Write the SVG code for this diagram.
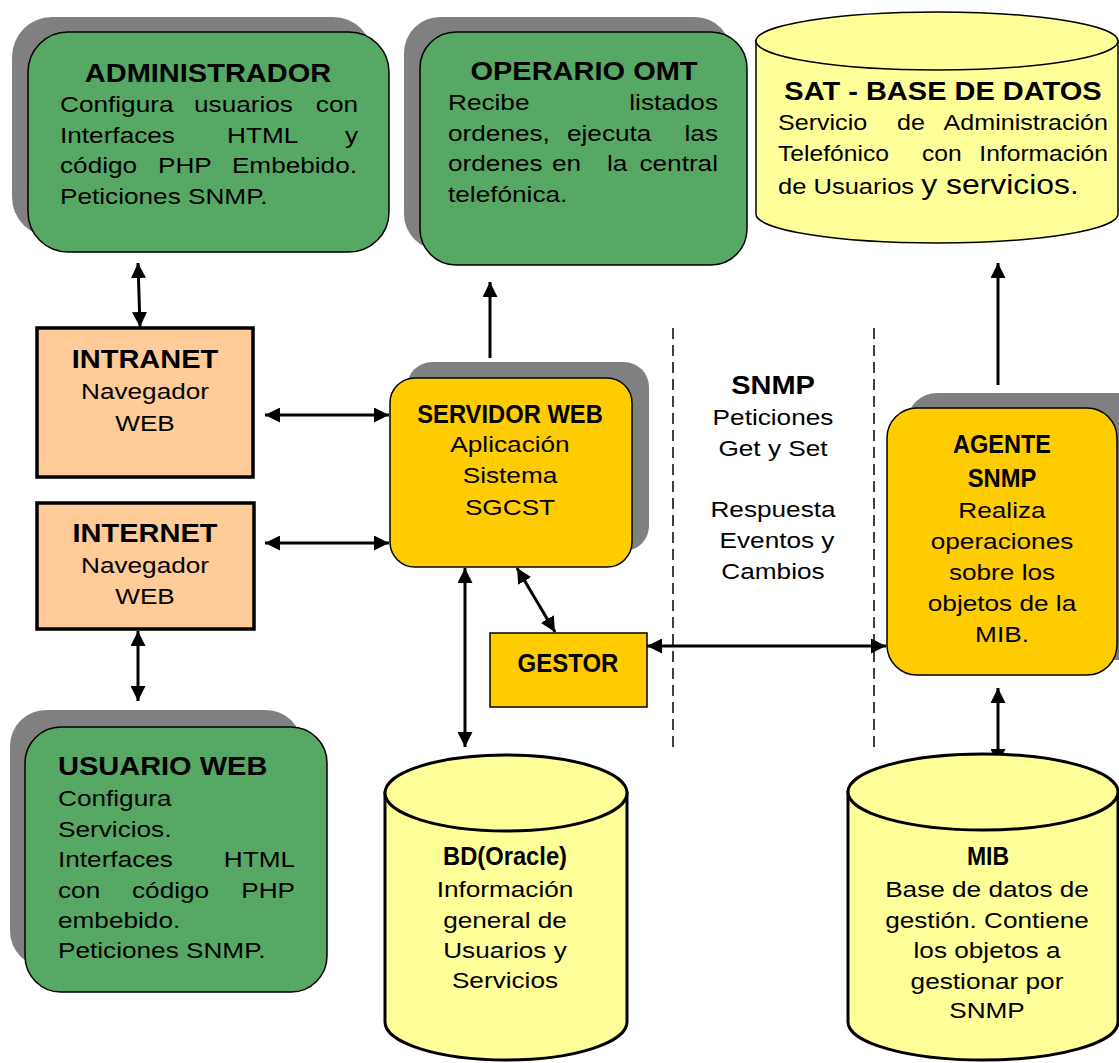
<svg xmlns="http://www.w3.org/2000/svg" width="1119" height="1063" viewBox="0 0 1119 1063">
<defs>
<style>
.t{font-family:"Liberation Sans",Arial,sans-serif;font-weight:bold;font-size:25px;fill:#000}
.r{font-family:"Liberation Sans",Arial,sans-serif;font-size:22px;fill:#000}
.shadow{fill:#808080}
.green{fill:#57A864;stroke:#000;stroke-width:1.5}
.yel{fill:#FFCC00;stroke:#000;stroke-width:1.5}
.org{fill:#FFCC99;stroke:#000;stroke-width:3.5}
.cyl{fill:#FFFF99;stroke:#000}
.conn{stroke:#000;stroke-width:3;fill:none}
.dash{stroke:#000;stroke-width:1.5;stroke-dasharray:11 6;fill:none}
</style>
<marker id="ah" viewBox="0 0 10 10" refX="10" refY="5" markerWidth="15" markerHeight="15" markerUnits="userSpaceOnUse" orient="auto-start-reverse">
<path d="M0,0 L10,5 L0,10 z" fill="#000"/>
</marker>
</defs>
<rect width="1119" height="1063" fill="#fff"/>

<g id="connectors">
<line class="conn" x1="138" y1="263" x2="140" y2="327" marker-start="url(#ah)" marker-end="url(#ah)"/>
<line class="conn" x1="265" y1="415" x2="389" y2="415" marker-start="url(#ah)" marker-end="url(#ah)"/>
<line class="conn" x1="265" y1="543" x2="389" y2="543" marker-start="url(#ah)" marker-end="url(#ah)"/>
<line class="conn" x1="138" y1="631" x2="138" y2="701" marker-start="url(#ah)" marker-end="url(#ah)"/>
<line class="conn" x1="490" y1="358" x2="490" y2="282" marker-end="url(#ah)"/>
<line class="conn" x1="465" y1="568" x2="465" y2="747" marker-start="url(#ah)" marker-end="url(#ah)"/>
<line class="conn" x1="517" y1="568" x2="555" y2="632" marker-start="url(#ah)" marker-end="url(#ah)"/>
<line class="conn" x1="647" y1="646" x2="886" y2="646" marker-start="url(#ah)" marker-end="url(#ah)"/>
<line class="conn" x1="998" y1="385" x2="998" y2="263" marker-end="url(#ah)"/>
<line class="conn" x1="998" y1="688" x2="998" y2="764" marker-start="url(#ah)" marker-end="url(#ah)"/>
<line class="dash" x1="673" y1="328" x2="673" y2="748"/>
<line class="dash" x1="874" y1="328" x2="874" y2="748"/>
</g>

<g id="administrador">
<rect class="shadow" x="12" y="17" width="361" height="220" rx="40"/>
<rect class="green" x="28" y="32" width="361" height="220" rx="40"/>
<text class="t" text-anchor="middle" transform="translate(208,82) scale(1.16,1)">ADMINISTRADOR</text>
<text class="r" transform="translate(60,112) scale(1.19,1)">Configura</text>
<text class="r" transform="translate(194,112) scale(1.19,1)">usuarios</text>
<text class="r" text-anchor="end" transform="translate(358,112) scale(1.19,1)">con</text>
<text class="r" transform="translate(60,143) scale(1.19,1)">Interfaces</text>
<text class="r" transform="translate(227,143) scale(1.19,1)">HTML</text>
<text class="r" text-anchor="end" transform="translate(358,143) scale(1.19,1)">y</text>
<text class="r" transform="translate(60,173) scale(1.19,1)">código</text>
<text class="r" transform="translate(158,173) scale(1.19,1)">PHP</text>
<text class="r" text-anchor="end" transform="translate(357,173) scale(1.19,1)">Embebido.</text>
<text class="r" transform="translate(60,204) scale(1.19,1)">Peticiones SNMP.</text>
</g>

<g id="operario">
<rect class="shadow" x="404" y="17" width="327" height="233" rx="36"/>
<rect class="green" x="420" y="32" width="327" height="233" rx="36"/>
<text class="t" text-anchor="middle" transform="translate(584,80) scale(1.16,1)">OPERARIO OMT</text>
<text class="r" transform="translate(448,110) scale(1.19,1)">Recibe</text>
<text class="r" text-anchor="end" transform="translate(718,110) scale(1.19,1)">listados</text>
<text class="r" transform="translate(448,140.5) scale(1.19,1)">ordenes,</text>
<text class="r" transform="translate(567,140.5) scale(1.19,1)">ejecuta</text>
<text class="r" text-anchor="end" transform="translate(718,140.5) scale(1.19,1)">las</text>
<text class="r" transform="translate(448,171) scale(1.19,1)">ordenes</text>
<text class="r" transform="translate(552,171) scale(1.19,1)">en</text>
<text class="r" transform="translate(607,171) scale(1.19,1)">la</text>
<text class="r" text-anchor="end" transform="translate(718,171) scale(1.19,1)">central</text>
<text class="r" transform="translate(448,202) scale(1.19,1)">telefónica.</text>
</g>

<g id="sat">
<path class="cyl" stroke-width="1.5" d="M756,41 L756,214 A181,29 0 0 0 1118,214 L1118,41 Z"/>
<ellipse class="cyl" stroke-width="1.5" cx="937" cy="41" rx="181" ry="29"/>
<text class="t" text-anchor="middle" transform="translate(943,100) scale(1.16,1)">SAT - BASE DE DATOS</text>
<text class="r" transform="translate(778,130) scale(1.14,1)">Servicio</text>
<text class="r" transform="translate(897,130) scale(1.14,1)">de</text>
<text class="r" text-anchor="end" transform="translate(1108,130) scale(1.14,1)">Administración</text>
<text class="r" transform="translate(778,161) scale(1.12,1)">Telefónico</text>
<text class="r" transform="translate(922,161) scale(1.12,1)">con</text>
<text class="r" text-anchor="end" transform="translate(1108,161) scale(1.12,1)">Información</text>
<text class="r" transform="translate(778,194) scale(1.16,1)">de Usuarios <tspan font-size="27.5">y servicios.</tspan></text>
</g>

<g id="intranet">
<rect class="org" x="37" y="328" width="216" height="149"/>
<text class="t" text-anchor="middle" transform="translate(145,368) scale(1.16,1)">INTRANET</text>
<text class="r" text-anchor="middle" transform="translate(145,399) scale(1.19,1)">Navegador</text>
<text class="r" text-anchor="middle" transform="translate(145,431) scale(1.19,1)">WEB</text>
</g>

<g id="internet">
<rect class="org" x="37" y="503" width="217" height="126"/>
<text class="t" text-anchor="middle" transform="translate(145,542) scale(1.16,1)">INTERNET</text>
<text class="r" text-anchor="middle" transform="translate(145,573) scale(1.19,1)">Navegador</text>
<text class="r" text-anchor="middle" transform="translate(145,604) scale(1.19,1)">WEB</text>
</g>

<g id="servidor">
<rect class="shadow" x="407" y="362" width="242" height="189" rx="25"/>
<rect class="yel" x="390" y="378" width="242" height="189" rx="25"/>
<text class="t" text-anchor="middle" transform="translate(510,423) scale(0.95,1)">SERVIDOR WEB</text>
<text class="r" text-anchor="middle" transform="translate(510,452) scale(1.19,1)">Aplicación</text>
<text class="r" text-anchor="middle" transform="translate(510,483) scale(1.19,1)">Sistema</text>
<text class="r" text-anchor="middle" transform="translate(510,515) scale(1.19,1)">SGCST</text>
</g>

<g id="gestor">
<rect class="yel" x="490" y="633" width="157" height="74"/>
<text class="t" font-size="27" text-anchor="middle" transform="translate(568,672) scale(0.96,1)">GESTOR</text>
</g>

<g id="snmp-label">
<text class="t" text-anchor="middle" transform="translate(773,394) scale(1.16,1)">SNMP</text>
<text class="r" text-anchor="middle" transform="translate(773,425) scale(1.19,1)">Peticiones</text>
<text class="r" text-anchor="middle" transform="translate(773,456) scale(1.19,1)">Get y Set</text>
<text class="r" text-anchor="middle" transform="translate(773,517) scale(1.19,1)">Respuesta</text>
<text class="r" text-anchor="middle" transform="translate(777,548) scale(1.19,1)">Eventos y</text>
<text class="r" text-anchor="middle" transform="translate(773,579) scale(1.19,1)">Cambios</text>
</g>

<g id="agente">
<rect class="shadow" x="907" y="393" width="240" height="267" rx="30"/>
<rect class="yel" x="887" y="408" width="230" height="267" rx="30"/>
<text class="t" text-anchor="middle" transform="translate(1002,453) scale(0.94,1)">AGENTE</text>
<text class="t" text-anchor="middle" transform="translate(1002,487) scale(0.95,1)">SNMP</text>
<text class="r" text-anchor="middle" transform="translate(1002,518) scale(1.19,1)">Realiza</text>
<text class="r" text-anchor="middle" transform="translate(1002,549) scale(1.19,1)">operaciones</text>
<text class="r" text-anchor="middle" transform="translate(1002,580) scale(1.19,1)">sobre los</text>
<text class="r" text-anchor="middle" transform="translate(1002,611) scale(1.19,1)">objetos de la</text>
<text class="r" text-anchor="middle" transform="translate(1002,642) scale(1.19,1)">MIB.</text>
</g>

<g id="usuario">
<rect class="shadow" x="10" y="710" width="292" height="257" rx="36"/>
<rect class="green" x="25" y="727" width="302" height="265" rx="36"/>
<text class="t" transform="translate(58,775) scale(1.16,1)">USUARIO WEB</text>
<text class="r" transform="translate(58,806) scale(1.19,1)">Configura</text>
<text class="r" transform="translate(58,837) scale(1.19,1)">Servicios.</text>
<text class="r" transform="translate(58,867) scale(1.19,1)">Interfaces</text>
<text class="r" text-anchor="end" transform="translate(295,867) scale(1.19,1)">HTML</text>
<text class="r" transform="translate(58,898) scale(1.19,1)">con</text>
<text class="r" transform="translate(132,898) scale(1.19,1)">código</text>
<text class="r" text-anchor="end" transform="translate(295,898) scale(1.19,1)">PHP</text>
<text class="r" transform="translate(58,928) scale(1.19,1)">embebido.</text>
<text class="r" transform="translate(58,958) scale(1.19,1)">Peticiones SNMP.</text>
</g>

<g id="bd-oracle">
<path class="cyl" stroke-width="3" d="M385,793 L385,1022 A121,38 0 0 0 627,1022 L627,793 Z"/>
<ellipse class="cyl" stroke-width="3" cx="506" cy="793" rx="121" ry="38"/>
<text class="t" text-anchor="middle" transform="translate(505,865) scale(0.95,1)">BD(Oracle)</text>
<text class="r" text-anchor="middle" transform="translate(505,897) scale(1.19,1)">Información</text>
<text class="r" text-anchor="middle" transform="translate(505,928) scale(1.19,1)">general de</text>
<text class="r" text-anchor="middle" transform="translate(505,958) scale(1.19,1)">Usuarios y</text>
<text class="r" text-anchor="middle" transform="translate(505,988) scale(1.19,1)">Servicios</text>
</g>

<g id="mib">
<path class="cyl" stroke-width="3" d="M848,792 L848,1022 A135,38 0 0 0 1118,1022 L1118,792 Z"/>
<ellipse class="cyl" stroke-width="3" cx="983" cy="792" rx="135" ry="38"/>
<text class="t" text-anchor="middle" transform="translate(988,865) scale(0.92,1)">MIB</text>
<text class="r" text-anchor="middle" transform="translate(987,897) scale(1.19,1)">Base de datos de</text>
<text class="r" text-anchor="middle" transform="translate(987,928) scale(1.19,1)">gestión. Contiene</text>
<text class="r" text-anchor="middle" transform="translate(987,958) scale(1.19,1)">los objetos a</text>
<text class="r" text-anchor="middle" transform="translate(987,989) scale(1.19,1)">gestionar por</text>
<text class="r" text-anchor="middle" transform="translate(987,1018) scale(1.19,1)">SNMP</text>
</g>
</svg>
